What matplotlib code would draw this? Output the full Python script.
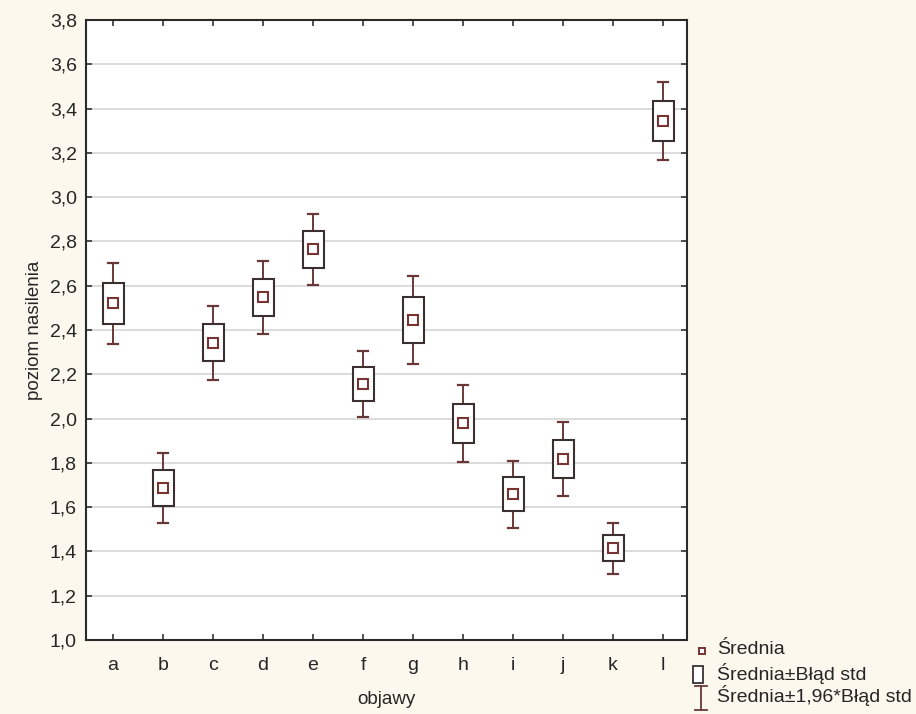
import matplotlib
matplotlib.use("Agg")
import matplotlib.pyplot as plt
from matplotlib.patches import Rectangle
from matplotlib.lines import Line2D
import numpy as np

categories = ["a", "b", "c", "d", "e", "f", "g", "h", "i", "j", "k", "l"]
means = [2.52, 1.687, 2.343, 2.548, 2.764, 2.155, 2.445, 1.978, 1.658, 1.817, 1.415, 3.343]
se = [0.093, 0.080, 0.085, 0.084, 0.082, 0.076, 0.102, 0.088, 0.077, 0.085, 0.059, 0.090]
y_ticks = [1.0, 1.2, 1.4, 1.6, 1.8, 2.0, 2.2, 2.4, 2.6, 2.8, 3.0, 3.2, 3.4, 3.6, 3.8]

plt.rcParams['font.family'] = ['Liberation Sans', 'DejaVu Sans']

BG = "#fdf8ee"
BOX = "#3a3030"
WHISK = "#6a3838"
MEAN = "#7a3333"
TXT = "#262626"

fig = plt.figure(figsize=(9.16, 7.14), dpi=100, facecolor=BG)
ax = fig.add_axes([86/916, 74/714, (687-86)/916, (640-20)/714])
ax.set_facecolor("white")

x = np.arange(len(categories))
bw = 0.42
cap = 0.10
for xi, m, s in zip(x, means, se):
    lo2, hi2 = m - 1.96*s, m + 1.96*s
    lo1, hi1 = m - s, m + s
    ax.plot([xi, xi], [hi1, hi2], color=WHISK, lw=1.4, zorder=3)
    ax.plot([xi, xi], [lo2, lo1], color=WHISK, lw=1.4, zorder=3)
    ax.plot([xi-cap, xi+cap], [hi2, hi2], color=WHISK, lw=1.6, zorder=3)
    ax.plot([xi-cap, xi+cap], [lo2, lo2], color=WHISK, lw=1.6, zorder=3)
    ax.add_patch(Rectangle((xi-bw/2, lo1), bw, hi1-lo1, facecolor="white",
                           edgecolor=BOX, lw=1.5, zorder=4))
    ax.plot([xi], [m], marker='s', ms=7.5, mfc="white", mec=MEAN, mew=1.5, zorder=5)

ax.set_xlim(-0.54, 11.48)
ax.set_ylim(1.0, 3.8)
ax.set_xticks(x)
ax.set_xticklabels(categories)
ax.set_yticks(y_ticks)
ax.set_yticklabels([f"{v:.1f}".replace(".", ",") for v in y_ticks])
ax.yaxis.grid(True, color="#d6d6d6", lw=1.2)
ax.set_axisbelow(True)
ax.tick_params(direction="in", length=4, width=1.2, color="#333333",
               top=True, right=True, labelsize=14, labelcolor=TXT)
ax.tick_params(axis="y", pad=6.5)
ax.tick_params(axis="x", pad=12.3)
for sp in ax.spines.values():
    sp.set_color("#2a2a2a")
    sp.set_linewidth(1.5)

ax.set_ylabel("poziom nasilenia", fontsize=13.5, color=TXT, labelpad=5)
ax.set_xlabel("objawy", fontsize=13.5, color=TXT, labelpad=12)

# Legend drawn manually in figure pixel coordinates
def fx(px):
    return px/916
def fy(py):
    return 1 - py/714

# mean marker
fig.add_artist(Line2D([fx(702)], [fy(651)], marker='s', ms=5, mfc="white",
                      mec=MEAN, mew=1.4, transform=fig.transFigure))
fig.text(fx(717), fy(650), "Średnia", fontsize=14, va="center", ha="left", color=TXT)
# box
fig.add_artist(Rectangle((fx(693), fy(683)), fx(10), fy(666)-fy(683), facecolor="white",
                         edgecolor=BOX, lw=1.3, transform=fig.transFigure))
fig.text(fx(717), fy(673), "Średnia±Błąd std", fontsize=14, va="center", ha="left", color=TXT)
# whisker
fig.add_artist(Line2D([fx(701), fx(701)], [fy(686), fy(710)], color=WHISK, lw=1.3,
                      transform=fig.transFigure))
fig.add_artist(Line2D([fx(695), fx(707)], [fy(686), fy(686)], color=WHISK, lw=1.3,
                      transform=fig.transFigure))
fig.add_artist(Line2D([fx(695), fx(707)], [fy(710), fy(710)], color=WHISK, lw=1.3,
                      transform=fig.transFigure))
fig.text(fx(717), fy(696), "Średnia±1,96*Błąd std", fontsize=14, va="center", ha="left", color=TXT)

fig.savefig("out.png", dpi=100, facecolor=BG)
